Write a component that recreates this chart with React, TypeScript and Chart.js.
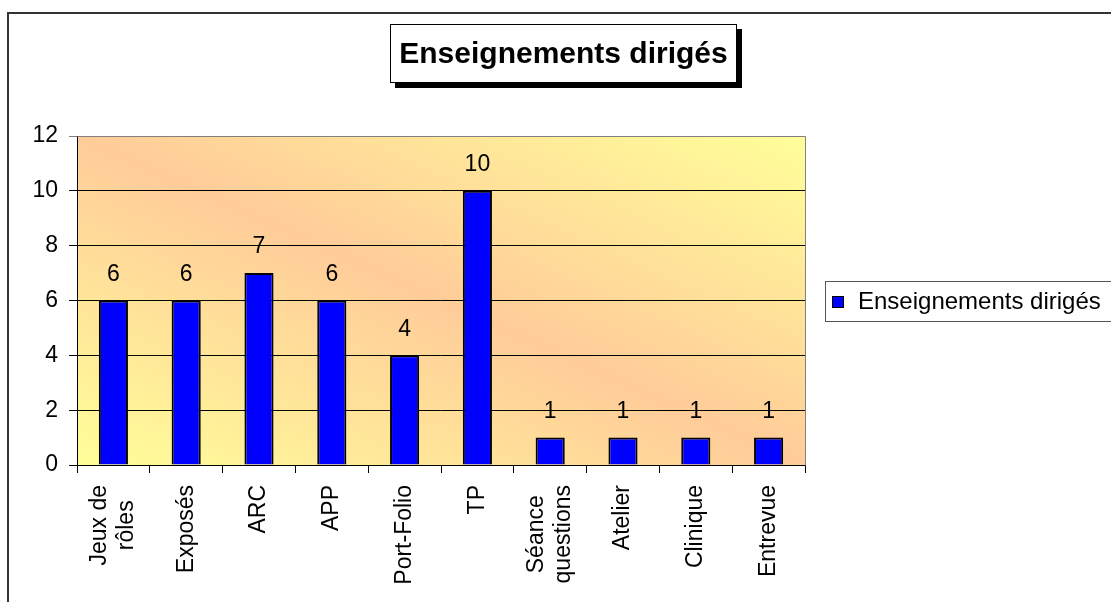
import React, { useEffect, useRef } from "react";
import { Chart, registerables } from "chart.js";

Chart.register(...registerables);

// ---- data ----
const categories: string[][] = [
  ["Jeux de", "rôles"],
  ["Exposés"],
  ["ARC"],
  ["APP"],
  ["Port-Folio"],
  ["TP"],
  ["Séance", "questions"],
  ["Atelier"],
  ["Clinique"],
  ["Entrevue"],
];
const seriesName = "Enseignements dirigés";
const values: number[] = [6, 6, 7, 6, 4, 10, 1, 1, 1, 1];
const yTickValues: number[] = [0, 2, 4, 6, 8, 10, 12];
const chartTitle = "Enseignements dirigés";

const FONT = '"Liberation Sans", Arial, sans-serif';
const W = 1111;
const H = 602;

export default function App() {
  const ref = useRef<HTMLCanvasElement>(null);

  useEffect(() => {
    const canvas = ref.current;
    if (!canvas) return;

    const bgPlugin = {
      id: "bgPlugin",
      beforeDraw(chart: any) {
        const { ctx, chartArea: a } = chart;
        ctx.save();
        ctx.fillStyle = "#ffffff";
        ctx.fillRect(0, 0, W, H);
        const w = a.right - a.left;
        const h = a.bottom - a.top;
        const L = Math.hypot(w, h);
        const ux = h / L;
        const uy = -w / L;
        const cx = (a.left + a.right) / 2;
        const cy = (a.top + a.bottom) / 2;
        const k = (w * h) / L;
        const g = ctx.createLinearGradient(cx - ux * k, cy - uy * k, cx + ux * k, cy + uy * k);
        g.addColorStop(0, "#FFFF99");
        g.addColorStop(0.5, "#FFCC99");
        g.addColorStop(1, "#FFFF99");
        ctx.fillStyle = g;
        ctx.fillRect(a.left, a.top, w, h);
        ctx.restore();
      },
      afterDatasetsDraw(chart: any) {
        const { ctx, chartArea: a } = chart;
        ctx.save();
        // plot border (top & right) in gray
        ctx.strokeStyle = "#808080";
        ctx.lineWidth = 1;
        ctx.beginPath();
        ctx.moveTo(Math.round(a.left) + 0.5, Math.round(a.top) + 0.5);
        ctx.lineTo(Math.round(a.right) + 0.5, Math.round(a.top) + 0.5);
        ctx.lineTo(Math.round(a.right) + 0.5, Math.round(a.bottom) + 0.5);
        ctx.stroke();

        // value labels
        const meta = chart.getDatasetMeta(0);
        ctx.fillStyle = "#000";
        ctx.font = `23px ${FONT}`;
        ctx.textAlign = "center";
        ctx.textBaseline = "middle";
        meta.data.forEach((bar: any, i: number) => {
          ctx.fillText(String(values[i]), bar.x, bar.y - 26);
        });
        ctx.restore();
      },
      afterDraw(chart: any) {
        const { ctx } = chart;
        const xScale = chart.scales.x;
        ctx.save();

        // x category labels, rotated, multi-line centered
        ctx.fillStyle = "#000";
        ctx.font = `23px ${FONT}`;
        ctx.textAlign = "center";
        ctx.textBaseline = "middle";
        const lineH = 27;
        const yTop = 485;
        categories.forEach((lines, i) => {
          const x = xScale.getPixelForValue(i);
          const wMax = Math.max(...lines.map((l) => ctx.measureText(l).width));
          ctx.save();
          ctx.translate(x, yTop + wMax / 2);
          ctx.rotate(-Math.PI / 2);
          lines.forEach((l, j) => {
            const off = (j - (lines.length - 1) / 2) * lineH;
            ctx.fillText(l, 0, off);
          });
          ctx.restore();
        });

        // outer frame
        ctx.strokeStyle = "#333";
        ctx.lineWidth = 2;
        ctx.beginPath();
        ctx.moveTo(8, H + 2);
        ctx.lineTo(8, 13);
        ctx.lineTo(W + 2, 13);
        ctx.stroke();

        // title box with shadow
        const tx = 390, ty = 24, tw = 347, th = 59;
        ctx.fillStyle = "#000";
        ctx.fillRect(tx + 5, ty + 5, tw, th);
        ctx.fillStyle = "#fff";
        ctx.fillRect(tx, ty, tw, th);
        ctx.strokeStyle = "#000";
        ctx.lineWidth = 1;
        ctx.strokeRect(tx + 0.5, ty + 0.5, tw - 1, th - 1);
        ctx.fillStyle = "#000";
        ctx.font = `bold 30px ${FONT}`;
        ctx.textAlign = "center";
        ctx.textBaseline = "middle";
        ctx.fillText(chartTitle, tx + tw / 2, ty + th / 2 + 1);

        // legend
        ctx.strokeStyle = "#555";
        ctx.lineWidth = 1;
        ctx.strokeRect(825.5, 281.5, 300, 40);
        ctx.fillStyle = "#0000FF";
        ctx.fillRect(832, 296, 11, 11);
        ctx.strokeStyle = "#000";
        ctx.strokeRect(832.5, 296.5, 11, 11);
        ctx.fillStyle = "#000";
        ctx.font = `24px ${FONT}`;
        ctx.textAlign = "left";
        ctx.textBaseline = "middle";
        ctx.fillText(seriesName, 858, 302);

        ctx.restore();
      },
    };

    const chart = new Chart(canvas, {
      type: "bar",
      data: {
        labels: categories.map((c) => c.join(" ")),
        datasets: [
          {
            label: seriesName,
            data: values,
            backgroundColor: "#0000FF",
            borderColor: "#000000",
            borderWidth: 2,
            barPercentage: 0.4,
            categoryPercentage: 1,
          },
        ],
      },
      options: {
        responsive: false,
        animation: false,
        devicePixelRatio: 1,
        layout: { padding: { left: 0, top: 136, right: 306, bottom: 0 } },
        plugins: {
          legend: { display: false },
          title: { display: false },
          tooltip: { enabled: false },
        },
        scales: {
          x: {
            afterFit(scale: any) {
              scale.height = 137;
            },
            ticks: { display: false },
            grid: {
              offset: true,
              drawOnChartArea: false,
              drawTicks: true,
              tickLength: 8,
              color: "#000",
            },
            border: { display: true, color: "#000", width: 1 },
          },
          y: {
            min: 0,
            max: 12,
            afterFit(scale: any) {
              scale.width = 77;
            },
            afterBuildTicks(scale: any) {
              scale.ticks = yTickValues.map((v) => ({ value: v }));
            },
            ticks: {
              color: "#000",
              font: { family: FONT, size: 23 },
              padding: 11,
            },
            grid: {
              color: (c: any) => (c.tick && c.tick.value === 12 ? "#808080" : "#000"),
              tickLength: 8,
              lineWidth: 1,
            },
            border: { display: true, color: "#000", width: 1 },
          },
        },
      },
      plugins: [bgPlugin],
    });

    return () => chart.destroy();
  }, []);

  return (
    <div style={{ position: "fixed", left: 0, top: 0, width: W, height: H, background: "#fff" }}>
      <canvas ref={ref} width={W} height={H} style={{ display: "block", width: W, height: H }} />
    </div>
  );
}
